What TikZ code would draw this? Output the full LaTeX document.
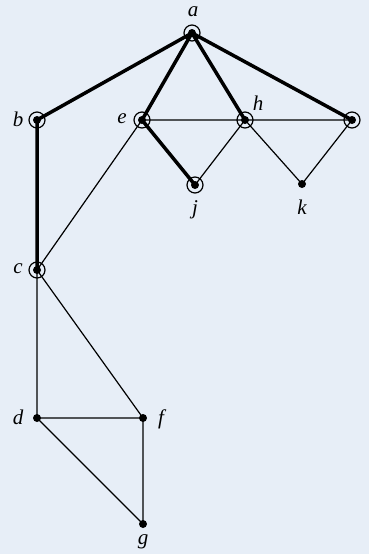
\documentclass[tikz,border=0pt]{standalone}
\usepackage{fontspec}
\setmainfont{Liberation Serif}
\definecolor{bg}{HTML}{E7EEF7}
\begin{document}
\begin{tikzpicture}[x=1pt,y=-1pt,
  dot/.style={circle,fill=black,inner sep=0pt,minimum size=8pt},
  ring/.style={circle,draw=black,line width=1.2pt,inner sep=0pt,minimum size=16pt},
  thk/.style={line width=3.5pt},
  thn/.style={line width=1.2pt},
  lbl/.style={font=\fontsize{21}{24}\selectfont\itshape,inner sep=1pt}]
\fill[bg] (0,0) rectangle (369,554);
\useasboundingbox (0,0) rectangle (369,554);
\foreach \n/\x/\y in {a/192/33,b/37/120,e/142/120,h/245/120,i/352/120,j/195/185,k/302/184,c/37/270,d/37/418,f/143/418,g/143/524}
  \coordinate (\n) at (\x,\y);
\draw[thk] (a) -- (b) (a) -- (e) (a) -- (h) (a) -- (i) (b) -- (c) (e) -- (j);
\draw[thn] (e) -- (h) -- (i) (h) -- (j) (h) -- (k) -- (i) (e) -- (c) -- (d) -- (f) -- (c) (d) -- (g) -- (f);
\foreach \n in {a,b,e,h,i,j,c}
  \node[ring] at (\n) {};
\foreach \n in {a,b,e,h,i,j,k,c,d,f,g}
  \node[dot] at (\n) {};
\node[lbl] (la) at (193,12) {a};
\node[lbl] (lb) at (18,119) {b};
\node[lbl] (le) at (122,119) {e};
\node[lbl] (lh) at (258,103) {h};
\node[lbl] (lj) at (195,210) {j};
\node[lbl] (lk) at (302,207) {k};
\node[lbl] (lc) at (18,269) {c};
\node[lbl] (ld) at (18,417) {d};
\node[lbl] (lf) at (161,419) {f};
\node[lbl] (lg) at (143,542) {g};
\end{tikzpicture}
\end{document}
